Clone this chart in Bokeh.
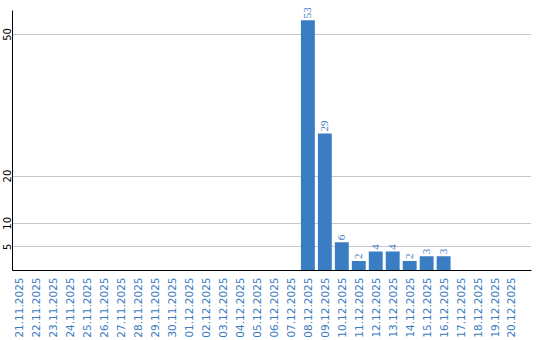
import math
from bokeh.plotting import figure
from bokeh.models import ColumnDataSource, Range1d, FixedTicker, LabelSet
from bokeh.embed import file_html
from bokeh.resources import INLINE

dates = ["21.11.2025", "22.11.2025", "23.11.2025", "24.11.2025", "25.11.2025",
         "26.11.2025", "27.11.2025", "28.11.2025", "29.11.2025", "30.11.2025",
         "01.12.2025", "02.12.2025", "03.12.2025", "04.12.2025", "05.12.2025",
         "06.12.2025", "07.12.2025", "08.12.2025", "09.12.2025", "10.12.2025",
         "11.12.2025", "12.12.2025", "13.12.2025", "14.12.2025", "15.12.2025",
         "16.12.2025", "17.12.2025", "18.12.2025", "19.12.2025", "20.12.2025"]
counts = [0, 0, 0, 0, 0, 0, 0, 0, 0, 0,
          0, 0, 0, 0, 0, 0, 0, 53, 29, 6,
          2, 4, 4, 2, 3, 3, 0, 0, 0, 0]
y_ticks = [5, 10, 20, 50]

BAR = "#3b7dc2"
TXT = "#3a7bbf"

idx = list(range(len(dates)))
src = ColumnDataSource(dict(x=idx, top=counts))
nz = [i for i in idx if counts[i] > 0]
lab = ColumnDataSource(dict(x=nz, y=[counts[i] for i in nz], t=[str(counts[i]) for i in nz]))

# frame spans full top so value labels above the tallest bar are not clipped
p = figure(width=540, height=340, output_backend="svg", toolbar_location=None,
           x_range=Range1d(-0.41, 30.18), y_range=Range1d(0, 57.2),
           min_border_left=11, min_border_right=9, min_border_top=0, min_border_bottom=70)
p.outline_line_color = None
p.background_fill_color = "white"
p.border_fill_color = "white"

p.vbar(x="x", top="top", width=0.82, bottom=0, source=src, color=BAR, line_color=None)
p.add_layout(LabelSet(x="x", y="y", text="t", source=lab, angle=math.pi / 2, y_offset=2,
                      text_align="left", text_baseline="middle", text_color=TXT,
                      text_font="DejaVu Sans", text_font_size="11px"))

p.xaxis.ticker = FixedTicker(ticks=idx)
p.xaxis.major_label_overrides = {i: d for i, d in enumerate(dates)}
p.xaxis.major_label_orientation = math.pi / 2
p.xaxis.major_label_text_color = TXT
p.xaxis.major_label_text_font = "DejaVu Sans"
p.xaxis.major_label_text_font_size = "10.5px"
p.xaxis.major_label_standoff = 7
p.xaxis.major_tick_out = 0
p.xaxis.major_tick_in = 0
p.xaxis.major_tick_line_color = None
p.xaxis.minor_tick_line_color = None
p.xaxis.axis_line_color = "black"

p.yaxis.ticker = FixedTicker(ticks=y_ticks)
p.yaxis.bounds = (0, 55.08)
p.yaxis.major_label_orientation = "parallel"
p.yaxis.major_label_text_color = "black"
p.yaxis.major_label_text_font = "DejaVu Sans"
p.yaxis.major_label_text_font_size = "10px"
p.yaxis.major_label_standoff = 1
p.yaxis.major_tick_out = 0
p.yaxis.major_tick_in = 0
p.yaxis.major_tick_line_color = None
p.yaxis.minor_tick_line_color = None
p.yaxis.axis_line_color = "black"

p.xgrid.grid_line_color = None
p.ygrid.grid_line_color = "#c8c8c8"

open("out.html", "w").write(file_html(p, INLINE))
